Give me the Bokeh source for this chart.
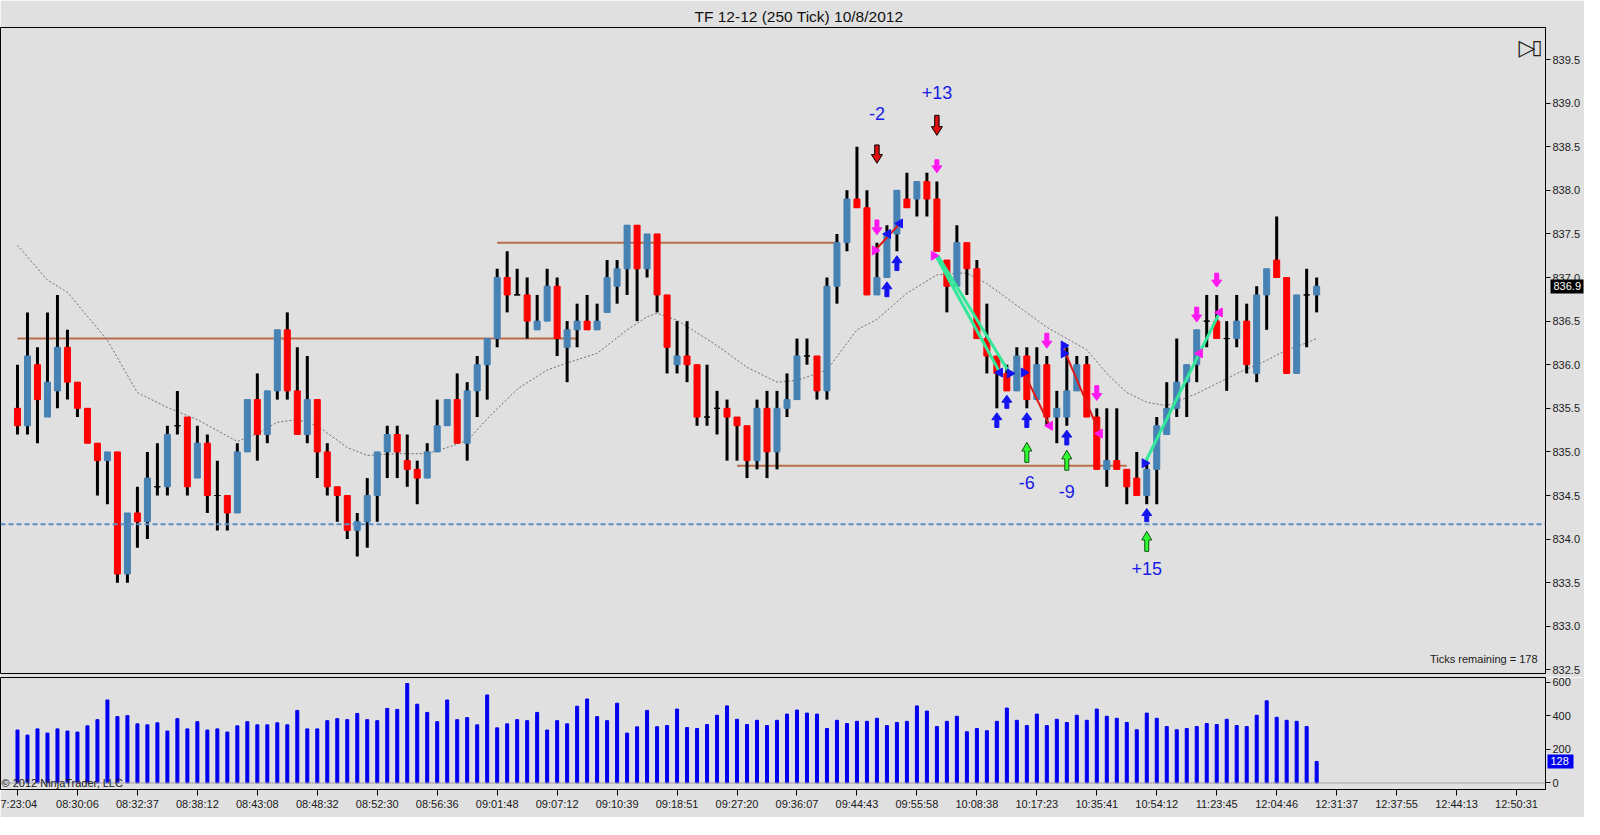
import numpy as np
from bokeh.plotting import figure
from bokeh.layouts import column
from bokeh.models import (Range1d, FixedTicker, Span, Label, ColumnDataSource,
                          NumeralTickFormatter, LinearAxis)
from bokeh.core.properties import value
from bokeh.embed import file_html
from bokeh.resources import INLINE

# ---------------- data (TF 12-12, 250 tick bars) ----------------
opens = [835.5, 835.3, 836.0, 835.4, 835.7, 836.2, 835.8, 835.5, 835.1, 834.9,
         835.0, 833.6, 834.3, 834.2, 834.6, 834.6, 835.3, 835.4, 834.7, 835.1,
         834.5, 834.5, 834.3, 835.0, 835.6, 835.2, 835.7, 836.4, 835.7, 835.2,
         835.6, 835.0, 834.6, 834.5, 834.1, 834.2, 834.5, 835.0, 835.2, 834.9,
         834.8, 834.7, 835.0, 835.3, 835.6, 835.1, 835.7, 836.0, 836.3, 837.0,
         836.8, 836.8, 836.4, 836.5, 836.9, 836.2, 836.4, 836.5, 836.4, 836.6,
         836.9, 837.1, 837.6, 837.1, 837.5, 836.8, 836.0, 836.1, 836.0, 835.4,
         835.5, 835.5, 835.4, 835.3, 834.9, 835.5, 835.0, 835.5, 835.6, 836.1,
         836.1, 835.7, 836.9, 837.4, 837.9, 837.8, 836.8, 837.0, 837.5, 837.9,
         837.9, 838.1, 837.9, 837.2, 836.9, 837.4, 837.1, 836.3, 836.1, 835.9,
         835.7, 836.1, 835.6, 836.0, 835.4, 835.4, 835.7, 836.0, 835.4, 834.8,
         834.9, 834.8, 834.7, 834.5, 834.8, 835.2, 835.5, 835.8, 836.0, 836.5,
         836.5, 836.3, 836.3, 836.5, 835.9, 836.8, 837.2, 837.0, 835.9, 836.8,
         836.8]
highs = [836.0, 836.6, 836.2, 836.6, 836.8, 836.4, 835.8, 835.5, 835.1, 835.0,
         835.0, 834.3, 834.6, 835.0, 835.1, 835.3, 835.7, 835.4, 835.3, 835.2,
         834.9, 834.5, 835.1, 835.6, 835.9, 835.7, 836.4, 836.6, 836.2, 836.1,
         835.6, 835.1, 834.6, 834.5, 834.3, 834.7, 835.0, 835.3, 835.3, 835.2,
         834.9, 835.1, 835.6, 835.6, 835.9, 835.8, 836.1, 836.3, 837.1, 837.3,
         837.1, 837.0, 836.8, 837.1, 837.0, 836.5, 836.7, 836.8, 836.7, 837.2,
         837.2, 837.6, 837.6, 837.5, 837.5, 836.8, 836.5, 836.5, 836.0, 836.0,
         835.7, 835.6, 835.4, 835.3, 835.6, 835.7, 835.7, 835.9, 836.3, 836.3,
         836.1, 837.0, 837.5, 838.0, 838.5, 838.0, 837.4, 837.6, 838.0, 838.2,
         838.1, 838.2, 838.1, 837.2, 837.6, 837.4, 837.2, 836.7, 836.1, 836.0,
         836.2, 836.2, 836.2, 836.1, 835.7, 836.2, 836.1, 836.1, 835.5, 835.5,
         835.5, 834.8, 835.0, 834.9, 835.4, 835.8, 836.3, 836.0, 836.4, 836.8,
         836.8, 836.5, 836.8, 836.7, 836.9, 837.1, 837.7, 837.0, 836.8, 837.1,
         837.0]
lows = [835.2, 835.2, 835.1, 835.4, 835.5, 835.6, 835.4, 835.1, 834.5, 834.4,
        833.5, 833.5, 833.9, 834.0, 834.5, 834.5, 835.2, 834.5, 834.7, 834.3,
        834.1, 834.1, 834.3, 835.0, 834.9, 835.1, 835.6, 835.6, 835.2, 835.1,
        834.7, 834.5, 834.2, 834.0, 833.8, 833.9, 834.2, 834.7, 834.7, 834.6,
        834.4, 834.7, 835.0, 835.3, 835.1, 834.9, 835.4, 835.6, 836.2, 836.6,
        836.8, 836.3, 836.4, 836.5, 836.1, 835.8, 836.2, 836.4, 836.4, 836.6,
        836.7, 836.8, 836.5, 837.0, 836.6, 835.9, 835.9, 835.8, 835.3, 835.3,
        835.2, 834.9, 834.9, 834.7, 834.8, 834.7, 834.8, 835.4, 835.6, 836.0,
        835.6, 835.6, 836.7, 837.3, 837.8, 836.8, 836.8, 837.0, 837.3, 837.8,
        837.7, 837.7, 837.3, 836.6, 836.9, 836.8, 836.3, 835.9, 835.5, 835.7,
        835.7, 835.5, 835.6, 835.3, 835.1, 835.3, 835.7, 835.4, 834.8, 834.6,
        834.8, 834.4, 834.5, 834.4, 834.4, 835.2, 835.4, 835.4, 835.8, 836.2,
        836.3, 835.7, 836.2, 835.9, 835.8, 836.4, 837.0, 835.9, 835.9, 836.2,
        836.6]
closes = [835.3, 836.1, 835.6, 835.8, 836.2, 835.8, 835.5, 835.1, 834.9, 835.0,
          833.6, 834.3, 834.2, 834.7, 834.6, 835.2, 835.3, 834.6, 835.1, 834.5,
          834.5, 834.3, 835.0, 835.6, 835.2, 835.7, 836.4, 835.7, 835.2, 835.6,
          835.0, 834.6, 834.5, 834.1, 834.2, 834.5, 835.0, 835.2, 835.0, 834.8,
          834.7, 835.0, 835.3, 835.6, 835.1, 835.7, 836.0, 836.3, 837.0, 836.8,
          836.8, 836.5, 836.5, 836.9, 836.3, 836.4, 836.5, 836.4, 836.5, 837.0,
          837.1, 837.6, 837.1, 837.5, 836.8, 836.2, 836.1, 836.0, 835.4, 835.4,
          835.5, 835.4, 835.3, 834.9, 835.5, 835.0, 835.5, 835.6, 836.1, 836.1,
          835.7, 836.9, 837.4, 837.9, 837.8, 836.8, 837.0, 837.5, 838.0, 837.8,
          838.1, 837.9, 837.3, 836.9, 837.4, 837.1, 836.3, 836.1, 835.9, 835.7,
          836.1, 835.6, 836.0, 835.4, 835.5, 835.7, 836.0, 835.4, 834.8, 834.9,
          834.8, 834.6, 834.5, 834.8, 835.3, 835.5, 835.8, 836.0, 836.4, 836.5,
          836.3, 836.3, 836.5, 836.0, 836.8, 837.1, 837.0, 835.9, 836.8, 836.8,
          836.9]
volumes = [315, 285, 322, 297, 322, 309, 303, 340, 377, 494,
           395, 401, 352, 346, 358, 309, 383, 322, 365, 315,
           322, 303, 340, 365, 346, 346, 358, 346, 432, 322,
           322, 371, 383, 377, 414, 377, 371, 444, 438, 592,
           469, 420, 365, 494, 377, 389, 346, 524, 328, 352,
           377, 371, 420, 315, 371, 352, 457, 500, 395, 371,
           475, 297, 334, 432, 335, 342, 440, 330, 324, 348,
           403, 459, 379, 348, 373, 342, 373, 410, 434, 416,
           410, 324, 373, 354, 367, 367, 385, 342, 360, 367,
           459, 428, 336, 367, 397, 305, 324, 311, 367, 446,
           373, 342, 410, 342, 379, 360, 403, 373, 440, 397,
           385, 360, 317, 416, 385, 336, 317, 324, 336, 354,
           348, 379, 342, 336, 403, 489, 391, 373, 367, 336,
           128]

# moving average read at selected bars
ma_idx = [0, 3, 5, 9, 12, 15, 18, 22, 24, 26, 28, 30, 33, 35, 38, 41, 43, 45,
          47, 50, 53, 55, 58, 61, 63, 64, 66, 70, 73, 76, 78, 81, 84, 86, 89,
          92, 94, 95, 97, 100, 103, 105, 107, 109, 111, 113, 115, 118, 121,
          122, 125, 127, 129, 130]
ma_val = [837.37, 836.97, 836.83, 836.28, 835.68, 835.51, 835.37, 835.12,
          835.21, 835.34, 835.37, 835.30, 835.05, 834.96, 834.98, 834.98,
          835.05, 835.13, 835.38, 835.72, 835.94, 836.02, 836.13, 836.40,
          836.55, 836.59, 836.51, 836.22, 835.97, 835.80, 835.82, 835.94,
          836.40, 836.52, 836.82, 837.03, 837.05, 837.05, 836.93, 836.68,
          836.43, 836.30, 836.17, 835.90, 835.68, 835.57, 835.53, 835.67,
          835.84, 835.90, 836.05, 836.17, 836.25, 836.30]

# time axis labels (every 6 bars)
time_labels = ["7:23:04", "08:30:06", "08:32:37", "08:38:12", "08:43:08",
               "08:48:32", "08:52:30", "08:56:36", "09:01:48", "09:07:12",
               "09:10:39", "09:18:51", "09:27:20", "09:36:07", "09:44:43",
               "09:55:58", "10:08:38", "10:17:23", "10:35:41", "10:54:12",
               "11:23:45", "12:04:46", "12:31:37", "12:37:55", "12:44:13",
               "12:50:31"]
label_step = 6

# horizontal drawn levels
level_start = [0, 48, 72]
level_end = [56, 82, 111]
level_price = [836.3, 837.4, 834.84]
stop_level = 834.17

# trade signal arrows
entry_idx = [86, 92]
entry_top = [838.52, 838.86]
entry_tip = [838.31, 838.63]
pink_idx = [86, 92, 103, 108, 118, 120]
pink_top = [837.66, 838.35, 836.36, 835.76, 836.66, 837.05]
pink_tip = [837.49, 838.20, 836.19, 835.59, 836.49, 836.89]
blue_idx = [87, 88, 98, 99, 101, 105, 113]
blue_tip = [836.95, 837.25, 835.45, 835.65, 835.45, 835.25, 834.35]
blue_base = [836.78, 837.08, 835.28, 835.50, 835.28, 835.08, 834.20]
green_idx = [101, 105, 113]
green_tip = [835.11, 835.02, 834.09]
green_base = [834.88, 834.79, 833.86]

# execution markers
mk_pink_r_x = [85.8, 91.7]
mk_pink_r_y = [837.31, 837.25]
mk_pink_l_x = [103.3, 108.3, 118.3, 120.3]
mk_pink_l_y = [835.30, 835.21, 836.13, 836.60]
mk_blue_l_x = [87.1, 88.3, 98.3]
mk_blue_l_y = [837.50, 837.62, 835.91]
mk_blue_r_x = [99.3, 100.7, 104.7, 104.7, 112.8]
mk_blue_r_y = [835.90, 835.91, 836.22, 836.13, 834.87]

# trade lines
red_x0 = [85.8, 100.7, 104.7]
red_y0 = [837.31, 835.91, 836.18]
red_x1 = [88.3, 103.3, 108.3]
red_y1 = [837.62, 835.30, 835.21]
grn_x0 = [91.8, 92.1, 112.8]
grn_y0 = [837.27, 837.25, 834.87]
grn_x1 = [98.3, 99.3, 120.3]
grn_y1 = [835.91, 835.90, 836.60]

# trade results
pnl_text = ["-2", "+13", "-6", "-9", "+15"]
pnl_idx = [86, 92, 101, 105, 113]
pnl_price = [838.88, 839.12, 834.65, 834.55, 833.66]

last_price = 836.9
last_volume = 128
ticks_remaining = 178

# ---------------- styling ----------------
BG = "#E0E0E0"
FONT = "Liberation Sans"
UP = "#4682B4"
DN = "#FF0000"
W = 1584
RB = 38  # right border for the axes

n = len(closes)
idx = list(range(n))
body_col = [UP if c > o else (DN if c < o else "#000000") for o, c in zip(opens, closes)]
src = ColumnDataSource(dict(x=idx, o=opens, h=highs, l=lows, c=closes,
                            top=[max(a, b) for a, b in zip(opens, closes)],
                            bot=[min(a, b) for a, b in zip(opens, closes)],
                            col=body_col, v=volumes))

x_rng = Range1d(-1.7, -1.7 + (W - RB) / 10.0)


def style_axis(a):
    a.major_tick_out = 5
    a.major_tick_in = 0
    a.minor_tick_line_color = None
    a.major_label_text_font = FONT
    a.major_label_text_font_size = "11px"
    a.major_label_text_color = "#1A1A1A"
    a.axis_line_color = "black"
    a.major_label_standoff = 2


def marker_axis(tick, fmt, fill, box_len, standoff):
    # a one-tick axis: its thick inward tick forms the value box, its label sits on it
    m = LinearAxis(ticker=FixedTicker(ticks=[tick]), formatter=NumeralTickFormatter(format=fmt))
    m.axis_line_color = None
    m.major_tick_out = 0
    m.major_tick_in = box_len
    m.major_tick_line_width = 14
    m.major_tick_line_color = fill
    m.minor_tick_line_color = None
    m.major_label_standoff = standoff
    m.major_label_text_color = "white"
    m.major_label_text_font = FONT
    m.major_label_text_font_size = "11px"
    return m


p = figure(width=W, height=677, output_backend="svg", toolbar_location=None,
           x_range=x_rng, y_range=Range1d(832.459, 839.867),
           x_axis_location=None, y_axis_location="right",
           min_border_left=0, min_border_right=RB, min_border_top=27,
           min_border_bottom=4, background_fill_color=BG, border_fill_color=BG,
           outline_line_color="black", title="TF 12-12 (250 Tick)  10/8/2012")
p.title.text_font = FONT
p.title.text_font_size = "15.5px"
p.title.text_font_style = "normal"
p.title.text_color = "#111111"
p.title.align = "left"
p.title.offset = 694
p.title.standoff = 6
p.grid.visible = False

ya = p.yaxis[0]
ya.ticker = FixedTicker(ticks=[832.5 + 0.5 * k for k in range(15)])
ya.formatter = NumeralTickFormatter(format="0.0")
style_axis(ya)
p.add_layout(marker_axis(last_price, "0.0", "black", 33, -30), "right")

# stop line
p.add_layout(Span(location=stop_level, dimension="width", line_color="#5A8FC8",
                  line_width=2, line_dash="5 3"))
# levels
p.segment(x0=level_start, y0=level_price, x1=level_end, y1=level_price,
          line_color="#B86E4B", line_width=2)
# moving average
p.line(ma_idx, ma_val, line_color="#6E6E6E", line_width=1, line_dash="2 2")

# candles
p.segment(x0="x", y0="l", x1="x", y1="h", source=src, line_color="black", line_width=3)
p.vbar(x="x", width=0.6, top="top", bottom="bot", source=src,
       fill_color="col", line_color="col", line_width=1)

# trade lines
p.segment(x0=grn_x0, y0=grn_y0, x1=grn_x1, y1=grn_y1, line_color="#33E89A", line_width=3)
p.segment(x0=red_x0, y0=red_y0, x1=red_x1, y1=red_y1, line_color="#E01818", line_width=2)


def arrow_polys(ids, tips, bases, head_h, head_hw, shaft_hw):
    xs, ys = [], []
    for i, t, b in zip(ids, tips, bases):
        d = 1 if b > t else -1
        hy = t + d * head_h
        xs.append([i - shaft_hw, i + shaft_hw, i + shaft_hw, i + head_hw, i, i - head_hw, i - shaft_hw])
        ys.append([b, b, hy, hy, t, hy, hy])
    return xs, ys


ax, ay = arrow_polys(entry_idx, entry_tip, entry_top, 0.10, 0.55, 0.22)
p.patches(ax, ay, fill_color="#E01010", line_color="black", line_width=1)
ax, ay = arrow_polys(pink_idx, pink_tip, pink_top, 0.08, 0.5, 0.2)
p.patches(ax, ay, fill_color="#FF18F0", line_color="#FF18F0", line_width=1)
ax, ay = arrow_polys(blue_idx, blue_tip, blue_base, 0.08, 0.5, 0.2)
p.patches(ax, ay, fill_color="#1414F0", line_color="#1414F0", line_width=1)
ax, ay = arrow_polys(green_idx, green_tip, green_base, 0.10, 0.5, 0.2)
p.patches(ax, ay, fill_color="#30FF30", line_color="#105010", line_width=1)

# execution markers
p.scatter(mk_pink_r_x, mk_pink_r_y, marker="triangle", angle=-np.pi / 2, size=9,
          fill_color="#FF18F0", line_color="#FF18F0")
p.scatter(mk_pink_l_x, mk_pink_l_y, marker="triangle", angle=np.pi / 2, size=9,
          fill_color="#FF18F0", line_color="#FF18F0")
p.scatter(mk_blue_l_x, mk_blue_l_y, marker="triangle", angle=np.pi / 2, size=9,
          fill_color="#1414F0", line_color="#1414F0")
p.scatter(mk_blue_r_x, mk_blue_r_y, marker="triangle", angle=-np.pi / 2, size=9,
          fill_color="#1414F0", line_color="#1414F0")

# pnl texts
p.text(x=pnl_idx, y=pnl_price, text=pnl_text, text_align="center",
       text_baseline="middle", text_font=value(FONT), text_font_size="18px",
       text_color="#1A1AE6")

p.add_layout(Label(x=152.1, y=832.63, text="Ticks remaining = %d" % ticks_remaining,
                   text_align="right", text_baseline="middle", text_font=FONT,
                   text_font_size="11px", text_color="#1A1A1A"))
# "play to end" icon in the top-right corner
p.add_layout(Label(x=150.2, y=839.64, text="\u25B7", text_align="left",
                   text_baseline="middle", text_font="DejaVu Sans",
                   text_font_size="22px", text_color="#202020"))
p.add_layout(Label(x=152.05, y=839.64, text="\u25AF", text_align="center",
                   text_baseline="middle", text_font="DejaVu Sans",
                   text_font_size="20px", text_color="#202020"))

# ---------------- volume panel ----------------
v = figure(width=W, height=140, output_backend="svg", toolbar_location=None,
           x_range=x_rng, y_range=Range1d(-39, 628), y_axis_location="right",
           min_border_left=0, min_border_right=RB, min_border_top=0,
           min_border_bottom=28, background_fill_color=BG, border_fill_color=BG,
           outline_line_color="black")
v.grid.visible = False
v.add_layout(Span(location=0, dimension="width", line_color="#A0A0A0", line_width=1))
v.vbar(x="x", width=0.3, top="v", bottom=0, source=src, fill_color="#0000F0",
       line_color="#0000F0")

vy = v.yaxis[0]
vy.ticker = FixedTicker(ticks=[0, 200, 400, 600])
style_axis(vy)
v.add_layout(marker_axis(last_volume, "0", "#0000F0", 26, -23), "right")

vx = v.xaxis[0]
tick_pos = [k * label_step for k in range(len(time_labels))]
vx.ticker = FixedTicker(ticks=tick_pos)
vx.major_label_overrides = {t: s for t, s in zip(tick_pos, time_labels)}
style_axis(vx)
vx.major_tick_out = 6

v.add_layout(Label(x=-1.6, y=0, text="\u00A9 2012 NinjaTrader, LLC", text_align="left",
                   text_baseline="middle", text_font=FONT, text_font_size="11px",
                   text_color="#1A1A1A"))

layout = column(p, v, spacing=0)
open("out.html", "w").write(file_html(layout, INLINE))
